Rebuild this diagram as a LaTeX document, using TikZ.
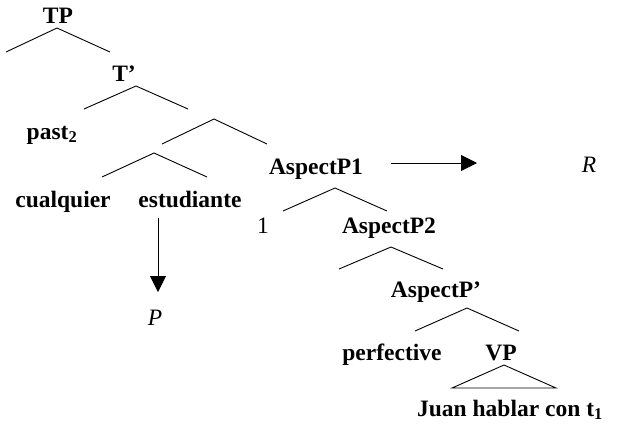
\documentclass[tikz,border=0pt]{standalone}
\usepackage{fontspec}
\setmainfont{Liberation Serif}
\usetikzlibrary{arrows.meta}
\begin{document}
\begin{tikzpicture}[x=1pt,y=-1pt,
  lbl/.style={font=\fontsize{23.5}{28}\selectfont\bfseries, anchor=base, inner sep=0pt},
  plainlbl/.style={font=\fontsize{23.5}{28}\selectfont, anchor=base, inner sep=0pt},
  itlbl/.style={font=\fontsize{23.5}{28}\selectfont\itshape, anchor=base, inner sep=0pt},
  branch/.style={line width=0.9pt, line join=miter},
  pointer/.style={line width=0.9pt, -{Triangle[length=16pt,width=16pt]}}]
\useasboundingbox (0,0) rectangle (626,424);

% labels
\node[lbl] (TP) at (58,23) {TP};
\node[lbl] (Tbar) at (124,81) {T’};
\node[lbl] (past) at (52,139) {past\textsubscript{2}};
\node[lbl] (cual) at (63,207) {cualquier};
\node[lbl] (estu) at (190,207) {estudiante};
\node[lbl] (asp1) at (316,174) {AspectP1};
\node[plainlbl] (one) at (263,233) {1};
\node[lbl] (asp2) at (389,233) {AspectP2};
\node[lbl] (aspbar) at (436,297) {AspectP’};
\node[lbl] (perf) at (392,360) {perfective};
\node[lbl] (VP) at (501,360) {VP};
\node[lbl] (juan) at (510,416) {Juan hablar con t\textsubscript{1}};
\node[itlbl] (P) at (155,325) {P};
\node[itlbl] (R) at (589,172) {R};

% branch points
\coordinate (tpA) at (57,28);   \coordinate (tpL) at (6,52);    \coordinate (tpR) at (110,52);
\coordinate (tbA) at (136,86);  \coordinate (tbL) at (84,109);  \coordinate (tbR) at (188,109);
\coordinate (xA) at (214,119);  \coordinate (xL) at (162,144);  \coordinate (xR) at (267,144);
\coordinate (dpA) at (154,153); \coordinate (dpL) at (102,177); \coordinate (dpR) at (207,177);
\coordinate (a1A) at (335,188); \coordinate (a1L) at (283,211); \coordinate (a1R) at (387,211);
\coordinate (a2A) at (391,247); \coordinate (a2L) at (339,269); \coordinate (a2R) at (443,269);
\coordinate (abA) at (467,308); \coordinate (abL) at (415,331); \coordinate (abR) at (519,331);
\coordinate (vpA) at (504,365); \coordinate (vpL) at (452,388); \coordinate (vpR) at (556,388);

\draw[branch] (tpL) -- (tpA) -- (tpR);
\draw[branch] (tbL) -- (tbA) -- (tbR);
\draw[branch] (xL) -- (xA) -- (xR);
\draw[branch] (dpL) -- (dpA) -- (dpR);
\draw[branch] (a1L) -- (a1A) -- (a1R);
\draw[branch] (a2L) -- (a2A) -- (a2R);
\draw[branch] (abL) -- (abA) -- (abR);
\draw[branch] (vpA) -- (vpL) -- (vpR) -- cycle;

% arrows
\coordinate (pStart) at (158,218); \coordinate (pEnd) at (158,292);
\coordinate (rStart) at (391,163); \coordinate (rEnd) at (477,163);
\draw[pointer] (pStart) -- (pEnd);
\draw[pointer] (rStart) -- (rEnd);
\end{tikzpicture}
\end{document}
